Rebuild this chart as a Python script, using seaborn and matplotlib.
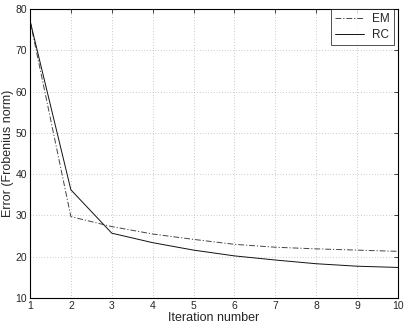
import numpy as np
import pandas as pd
import matplotlib
matplotlib.use("Agg")
import matplotlib.pyplot as plt
import seaborn as sns

# values
iterations = [1, 2, 3, 4, 5, 6, 7, 8, 9, 10]
em_error = [77.2, 29.7, 27.3, 25.5, 24.2, 23.0, 22.3, 21.9, 21.6, 21.3]
rc_error = [77.2, 36.2, 25.7, 23.4, 21.6, 20.2, 19.2, 18.3, 17.7, 17.4]
x_ticks = [1, 2, 3, 4, 5, 6, 7, 8, 9, 10]
y_ticks = [10, 20, 30, 40, 50, 60, 70, 80]

df = pd.DataFrame({
    "iteration": iterations * 2,
    "error": em_error + rc_error,
    "method": ["EM"] * len(iterations) + ["RC"] * len(iterations),
})

sns.set_style("white")
plt.rcParams["font.family"] = ["Liberation Sans", "DejaVu Sans"]

fig = plt.figure(figsize=(4.07, 3.27), dpi=100)
ax = fig.add_axes([30 / 407, 29 / 327, 368 / 407, 289 / 327])

sns.lineplot(data=df, x="iteration", y="error", style="method",
             hue="method", palette={"EM": "#444444", "RC": "#111111"},
             dashes={"EM": (6, 2, 1.2, 2), "RC": ""},
             linewidth=0.7, ax=ax)

ax.set_xlim(1, 10)
ax.set_ylim(10, 80)
ax.set_xticks(x_ticks)
ax.set_yticks(y_ticks)
ax.grid(True, linestyle=(0, (1, 3)), color="#999999", linewidth=0.5)
ax.tick_params(direction="in", top=True, right=True, length=3,
               width=0.6, labelsize=7.5, pad=2)
for s in ax.spines.values():
    s.set_linewidth(0.8)
    s.set_color("black")

ax.set_xlabel("Iteration number", fontsize=9, labelpad=1)
ax.set_ylabel("Error (Frobenius norm)", fontsize=9, labelpad=1)

leg = ax.legend(loc="upper right", fontsize=8.5, frameon=True, fancybox=False,
                edgecolor="black", handlelength=2.4, borderaxespad=0.0,
                bbox_to_anchor=(0.989, 1.0), borderpad=0.35, labelspacing=0.35,
                handletextpad=0.7)
leg.get_frame().set_linewidth(0.6)

fig.savefig("out.png", dpi=100)
